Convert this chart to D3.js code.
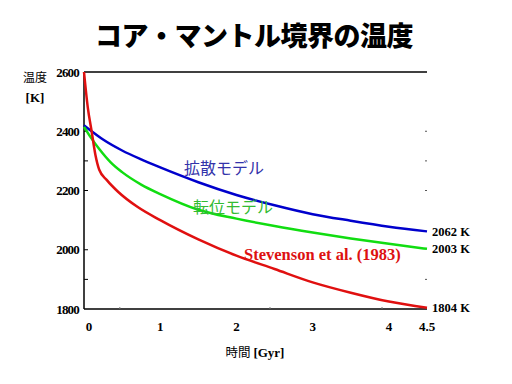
<!DOCTYPE html>
<html>
<head>
<meta charset="utf-8">
<script src="https://cdn.jsdelivr.net/npm/d3@7"></script>
<style>
  body { margin: 0; background: #fff; }
  svg { display: block; }
</style>
</head>
<body>
<div id="chart"></div>
<script>
var width = 512, height = 384;

// time [Gyr] and temperature [K]
var redT   = [0, 0.05, 0.1, 0.15, 0.2, 0.3, 0.45, 0.7, 1.0, 1.5, 2.0, 2.5, 3.0, 3.5, 4.0, 4.5];
var redK   = [2600, 2480, 2400, 2320, 2270, 2235, 2195, 2145, 2100, 2035, 1980, 1935, 1890, 1855, 1825, 1804];
var blueT  = [0, 0.1, 0.25, 0.5, 0.75, 1, 1.5, 2, 2.5, 3, 3.5, 4, 4.5];
var blueK  = [2420, 2400, 2372, 2335, 2305, 2278, 2228, 2185, 2150, 2120, 2098, 2078, 2062];
var greenT = [0, 0.1, 0.2, 0.35, 0.5, 0.75, 1, 1.5, 2, 2.5, 3, 3.5, 4, 4.5];
var greenK = [2415, 2375, 2340, 2295, 2262, 2220, 2188, 2135, 2105, 2080, 2058, 2038, 2020, 2003];

var xTicks = [0, 1, 2, 3, 4, 4.5];
var xMinor = [0.47, 2.44, 3.91];
var yTicks = [2600, 2400, 2200, 2000, 1800];
var yLeftMarks = [2400, 2300, 2200, 2000, 1900];
var yRightMarks = [2400, 2300, 2200, 1900];
var endLabels = ["2062 K", "2003 K", "1804 K"];

var svg = d3.select("#chart").append("svg")
  .attr("width", width)
  .attr("height", height);

var x = d3.scaleLinear().domain([0, 4.5]).range([84, 427]);
var y = d3.scaleLinear().domain([1800, 2600]).range([309, 72]);

var serif = "'Liberation Serif', 'Times New Roman', serif";
var cjk = "'Noto Sans CJK JP', sans-serif";

// title
svg.append("text")
  .attr("x", 254).attr("y", 46)
  .attr("text-anchor", "middle")
  .style("font-family", cjk)
  .style("font-weight", "900")
  .style("font-size", "27px")
  .style("letter-spacing", "-0.5px")
  .text("コア・マントル境界の温度");

// frame: left, bottom and top lines
svg.append("line").attr("x1", x(0)).attr("x2", x(0)).attr("y1", y(2600)).attr("y2", y(1800))
  .attr("stroke", "#000").attr("stroke-width", 1.5);
svg.append("line").attr("x1", x(0)).attr("x2", x(4.5)).attr("y1", y(1800)).attr("y2", y(1800))
  .attr("stroke", "#000").attr("stroke-width", 1.5);
svg.append("line").attr("x1", x(0)).attr("x2", x(4.5)).attr("y1", y(2600)).attr("y2", y(2600))
  .attr("stroke", "#000").attr("stroke-width", 1.5);

// tick marks
svg.selectAll(".lt").data(yLeftMarks).enter().append("line")
  .attr("x1", x(0)).attr("x2", x(0) + 4)
  .attr("y1", d => y(d)).attr("y2", d => y(d))
  .attr("stroke", "#000");
svg.selectAll(".rt").data(yRightMarks).enter().append("line")
  .attr("x1", x(4.5) - 2).attr("x2", x(4.5))
  .attr("y1", d => y(d)).attr("y2", d => y(d))
  .attr("stroke", "#555");
svg.selectAll(".bt").data(xMinor).enter().append("line")
  .attr("x1", d => x(d)).attr("x2", d => x(d))
  .attr("y1", y(1800)).attr("y2", y(1800) - 2)
  .attr("stroke", "#777");

// tick labels
svg.selectAll(".yl").data(yTicks).enter().append("text")
  .attr("x", 79).attr("y", d => y(d) + 4.5)
  .attr("text-anchor", "end")
  .style("font-family", serif).style("font-weight", "bold")
  .style("font-size", "13px").style("letter-spacing", "-0.8px")
  .text(d => d);
svg.selectAll(".xl").data(xTicks).enter().append("text")
  .attr("x", d => d === 0 ? x(d) + 5 : x(d))
  .attr("y", 331)
  .attr("text-anchor", "middle")
  .style("font-family", serif).style("font-weight", "bold")
  .style("font-size", "13px")
  .text(d => d);

// axis titles
svg.append("text").attr("x", 35).attr("y", 82).attr("text-anchor", "middle")
  .style("font-family", cjk).style("font-size", "12px").text("温度");
svg.append("text").attr("x", 35).attr("y", 102).attr("text-anchor", "middle")
  .style("font-family", serif).style("font-weight", "bold").style("font-size", "13px").text("[K]");
var xt = svg.append("text").attr("x", 255).attr("y", 357).attr("text-anchor", "middle");
xt.append("tspan").style("font-family", cjk).style("font-size", "12.5px").text("時間 ");
xt.append("tspan").style("font-family", serif).style("font-weight", "bold").style("font-size", "13px").text("[Gyr]");

// curves
var line = d3.line()
  .x(d => x(d[0]))
  .y(d => y(d[1]))
  .curve(d3.curveMonotoneX);

var series = [
  { t: blueT, k: blueK, color: "#0000cc" },
  { t: greenT, k: greenK, color: "#11dd11" },
  { t: redT, k: redK, color: "#e01010" }
];

series.forEach(function(s) {
  svg.append("path")
    .datum(d3.zip(s.t, s.k))
    .attr("fill", "none")
    .attr("stroke", s.color)
    .attr("stroke-width", 2.5)
    .attr("d", line);
});

// series labels
svg.append("text").attr("x", 184).attr("y", 174)
  .style("font-family", cjk).style("font-size", "16px").style("fill", "#3333aa")
  .text("拡散モデル");
svg.append("text").attr("x", 193).attr("y", 213)
  .style("font-family", cjk).style("font-size", "16px").style("fill", "#33bb33")
  .text("転位モデル");
svg.append("text").attr("x", 244).attr("y", 260)
  .style("font-family", serif).style("font-weight", "bold").style("font-size", "16.5px").style("fill", "#dd1111")
  .text("Stevenson et al. (1983)");

// end values
var ends = [blueK[blueK.length - 1], greenK[greenK.length - 1], redK[redK.length - 1]];
svg.selectAll(".el").data(ends).enter().append("text")
  .attr("x", 432).attr("y", d => y(d) + 4.5)
  .style("font-family", serif).style("font-weight", "bold").style("font-size", "12.5px")
  .text((d, i) => endLabels[i]);
</script>
</body>
</html>
